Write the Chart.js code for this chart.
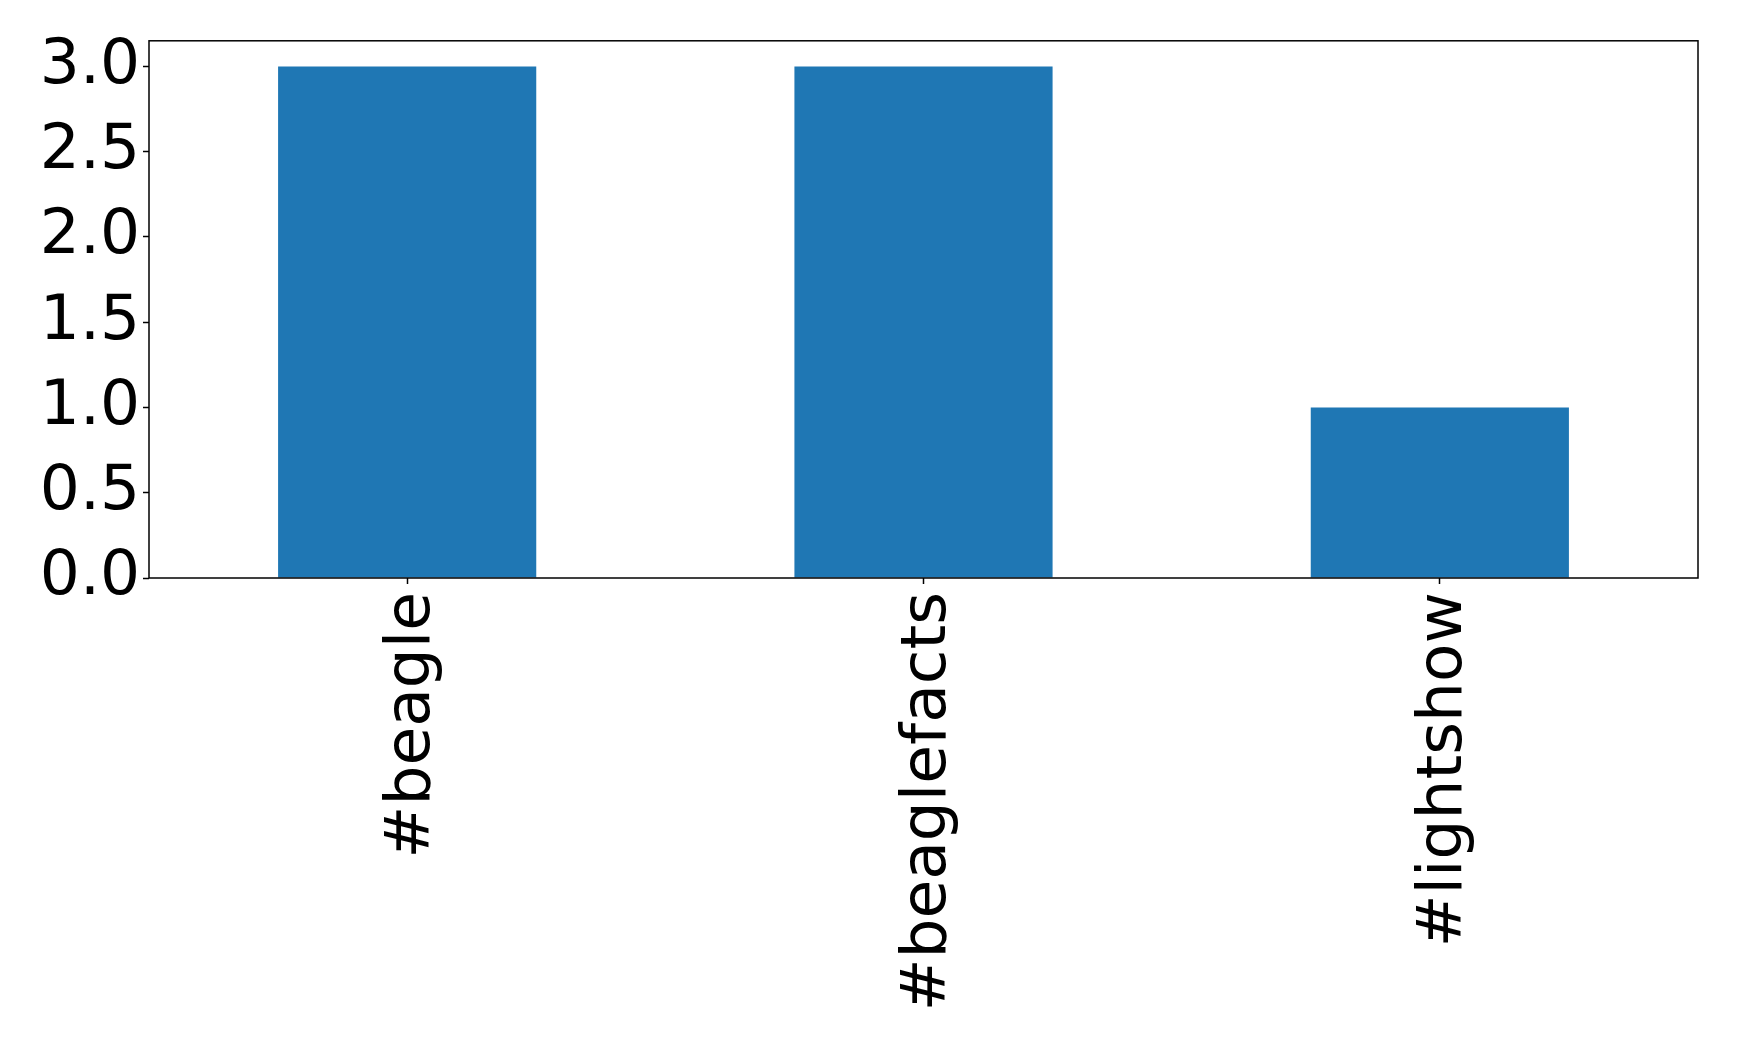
<!DOCTYPE html>
<html>
<head>
<meta charset="utf-8">
<script src="https://cdn.jsdelivr.net/npm/chart.js@4/dist/chart.umd.min.js"></script>
<style>
  body { margin: 0; background: #fff; }
  canvas { display: block; }
</style>
</head>
<body>
<canvas id="tagChart" width="1739" height="1044"></canvas>
<script>
var hashtags = ['#beagle', '#beaglefacts', '#lightshow'];
var counts = [3, 3, 1];
var yTicks = [0.0, 0.5, 1.0, 1.5, 2.0, 2.5, 3.0];

// box around the plot, like matplotlib spines
const frameBox = {
    id: 'frameBox',
    afterDraw: function(chart){
        const a = chart.chartArea;
        const ctx = chart.ctx;
        ctx.save();
        ctx.strokeStyle = '#000';
        ctx.lineWidth = 1.5;
        ctx.strokeRect(a.left, a.top, a.right - a.left, a.bottom - a.top);
        ctx.restore();
    }
};

const fontBig = { family: 'DejaVu Sans', size: 63 };

const config_tags = {
    type: 'bar',
    data: {
        labels: hashtags,
        datasets: [{
            data: counts,
            backgroundColor: '#1f77b4',
            borderWidth: 0,
            barPercentage: 0.5,
            categoryPercentage: 1.0
        }]
    },
    options: {
        responsive: false,
        animation: false,
        layout: { padding: { top: 40, right: 41, left: 0, bottom: 0 } },
        plugins: {
            legend: { display: false },
            tooltip: { enabled: false }
        },
        scales: {
            x: {
                offset: true,
                grid: { display: true, offset: false, drawOnChartArea: false, tickLength: 6, tickColor: '#000', tickWidth: 1.5 },
                border: { display: false },
                ticks: {
                    color: '#000',
                    font: fontBig,
                    minRotation: 90,
                    maxRotation: 90,
                    padding: 8,
                    labelOffset: 5,
                    autoSkip: false
                },
                afterFit: function(scale){ scale.height = 1044 - 578; }
            },
            y: {
                min: 0,
                max: 3.15,
                grid: { display: true, drawOnChartArea: false, tickLength: 6, tickColor: '#000', tickWidth: 1.5 },
                border: { display: false },
                afterBuildTicks: function(scale){
                    scale.ticks = yTicks.map(function(v){ return { value: v }; });
                },
                ticks: {
                    color: '#000',
                    font: fontBig,
                    padding: 3,
                    callback: function(v){ return Number(v).toFixed(1); }
                },
                afterFit: function(scale){ scale.width = 149; }
            }
        }
    },
    plugins: [frameBox]
};

const tagChart = new Chart(document.getElementById('tagChart'), config_tags);
</script>
</body>
</html>
